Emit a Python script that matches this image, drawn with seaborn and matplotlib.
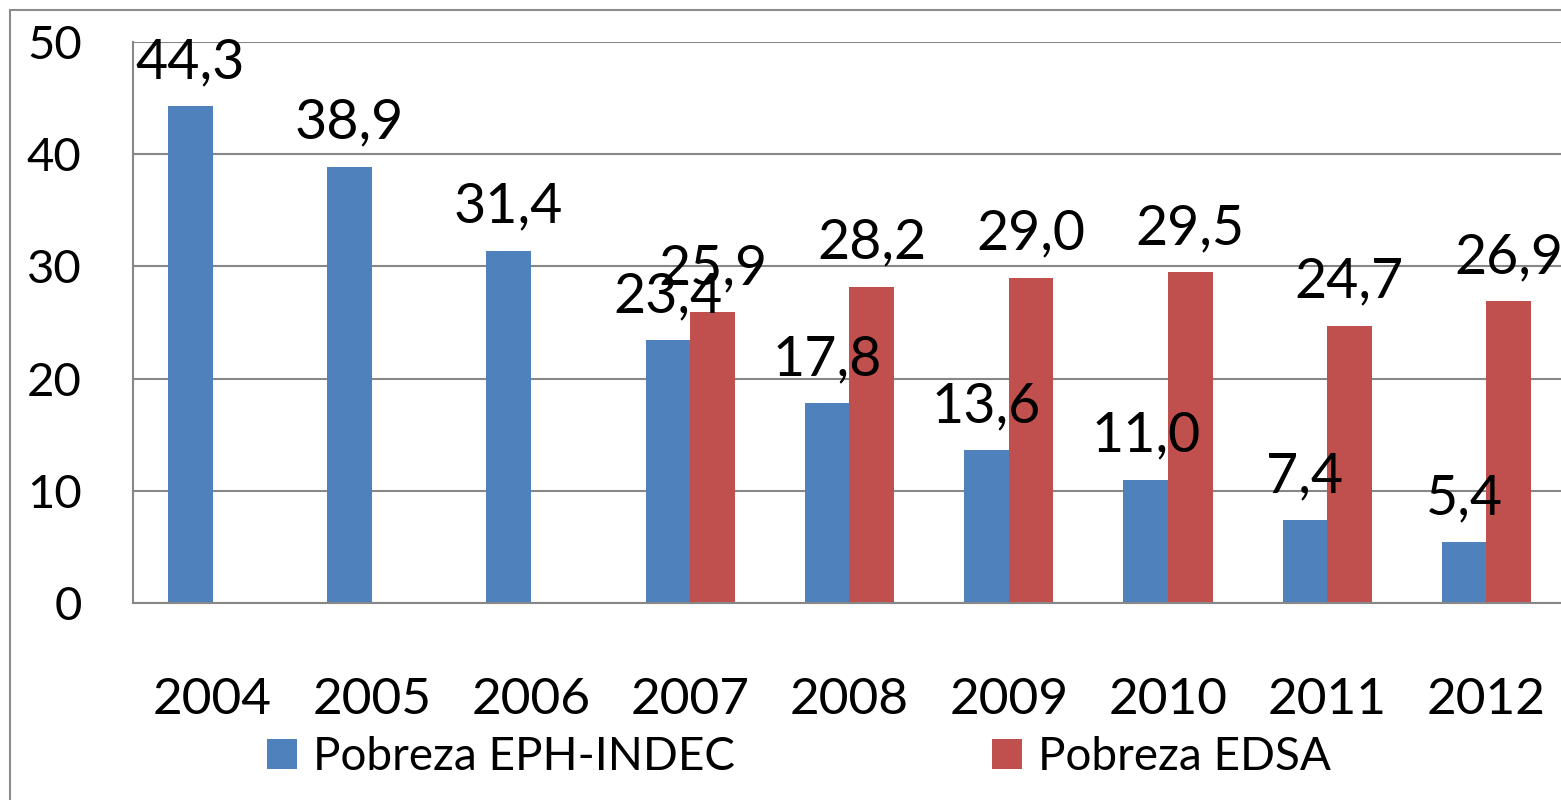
import numpy as np
import pandas as pd
import seaborn as sns
import matplotlib
matplotlib.use("Agg")
import matplotlib.pyplot as plt
from matplotlib.patches import Patch, Rectangle
from matplotlib.ticker import MultipleLocator, FixedLocator

years = ["2004", "2005", "2006", "2007", "2008", "2009", "2010", "2011", "2012"]
series_names = ["Pobreza EPH-INDEC", "Pobreza EDSA"]
eph_indec = [44.3, 38.9, 31.4, 23.4, 17.8, 13.6, 11.0, 7.4, 5.4]
edsa = [np.nan, np.nan, np.nan, 25.9, 28.2, 29.0, 29.5, 24.7, 26.9]
colors = ["#4F81BD", "#C0504D"]

df = pd.DataFrame({
    "year": years * 2,
    "serie": [series_names[0]] * len(years) + [series_names[1]] * len(years),
    "valor": eph_indec + edsa,
}).dropna()

sns.set_style("white")
plt.rcParams["font.family"] = ["Lato", "DejaVu Sans"]
plt.rcParams["text.color"] = "black"

W, H = 1561, 800
fig = plt.figure(figsize=(W / 100, H / 100), dpi=100)
ax = fig.add_axes([133 / W, 1 - 603 / H, (1566 - 133) / W, (603 - 42) / H])

sns.barplot(data=df, x="year", y="valor", hue="serie", order=years,
            hue_order=series_names, palette=colors, saturation=1, width=0.56,
            errorbar=None, linewidth=0, legend=False, ax=ax)

grid_c = "#878787"
ax.set_ylim(0, 50)
ax.set_xlim(-0.5, len(years) - 0.5)
ax.yaxis.set_major_locator(MultipleLocator(10))
ax.grid(axis="y", color=grid_c, linewidth=1.5, zorder=0)
ax.set_axisbelow(True)
for s in ["top", "right"]:
    ax.spines[s].set_visible(False)
for s in ["left", "bottom"]:
    ax.spines[s].set_color(grid_c)
    ax.spines[s].set_linewidth(1.5)

ax.set_xlabel("")
ax.set_ylabel("")
ax.xaxis.set_minor_locator(FixedLocator(np.arange(-0.5, len(years), 1.0)))
ax.tick_params(axis="x", which="major", length=0, pad=53, labelsize=37, labelcolor="black")
ax.tick_params(axis="x", which="minor", length=13, width=1.5, color=grid_c, direction="out")
ax.tick_params(axis="y", which="major", length=11, width=1.5, color=grid_c, pad=26,
               labelsize=34, labelcolor="black", direction="out")

for cont in ax.containers:
    labels = [f"{v:.1f}".replace(".", ",") for v in cont.datavalues]
    ax.bar_label(cont, labels=labels, padding=13, fontsize=40, color="black")

handles = [Patch(facecolor=c, edgecolor="none") for c in colors]
fig.legend(handles, series_names, loc="center left", bbox_to_anchor=(267 / W, 1 - 757 / H),
           ncol=2, frameon=False, fontsize=33, handlelength=0.655, handleheight=0.655,
           handletextpad=0.35, columnspacing=5.6, borderpad=0, borderaxespad=0)

fig.patches.append(Rectangle((10 / W, -0.05), 1.2, 1 - 10 / H + 0.05,
                             transform=fig.transFigure, fill=False,
                             edgecolor="#8C8C8C", linewidth=1.5))

fig.savefig("out.png", dpi=100)
